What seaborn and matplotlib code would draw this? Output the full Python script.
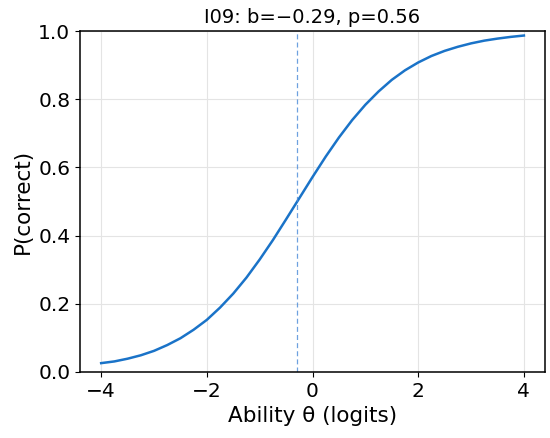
import matplotlib
matplotlib.use("Agg")
import matplotlib.pyplot as plt
import seaborn as sns
import pandas as pd

# Values
theta = [-4.0, -3.75, -3.5, -3.25, -3.0, -2.75, -2.5, -2.25, -2.0, -1.75, -1.5,
         -1.25, -1.0, -0.75, -0.5, -0.25, 0.0, 0.25, 0.5, 0.75, 1.0, 1.25, 1.5,
         1.75, 2.0, 2.25, 2.5, 2.75, 3.0, 3.25, 3.5, 3.75, 4.0]
p_correct = [0.026, 0.031, 0.039, 0.049, 0.062, 0.079, 0.099, 0.124, 0.153, 0.189,
             0.230, 0.277, 0.330, 0.387, 0.448, 0.510, 0.572, 0.632, 0.688, 0.739,
             0.784, 0.823, 0.857, 0.885, 0.908, 0.927, 0.942, 0.954, 0.964, 0.972,
             0.978, 0.983, 0.987]
difficulty = -0.29
title = "I09: b=\u22120.29, p=0.56"
xticks = [-4, -2, 0, 2, 4]
yticks = [0.0, 0.2, 0.4, 0.6, 0.8, 1.0]

df = pd.DataFrame({"theta": theta, "p": p_correct})

plt.rcParams['font.family'] = ['DejaVu Sans']
fig, ax = plt.subplots(figsize=(5.5, 4.38), dpi=100)
sns.lineplot(data=df, x="theta", y="p", ax=ax, color="#1a73c8", linewidth=1.8)
ax.axvline(difficulty, color="#4a8ad8", alpha=0.8, linestyle=(0, (4, 2.5)), linewidth=0.9)
ax.set_ylim(0, 1)
ax.set_xlim(-4.4, 4.4)
ax.set_xticks(xticks)
ax.set_yticks(yticks)
ax.grid(True, color="#e4e4e4", linewidth=0.8)
ax.set_axisbelow(True)
ax.tick_params(labelsize=14.5)
ax.set_xlabel("Ability \u03b8 (logits)", fontsize=15.5)
ax.set_ylabel("P(correct)", fontsize=15.5)
ax.set_title(title, fontsize=14)
for s in ax.spines.values():
    s.set_linewidth(1.1)
fig.subplots_adjust(left=0.1455, right=0.991, top=0.929, bottom=0.1507)
fig.savefig("out.png", dpi=100)
